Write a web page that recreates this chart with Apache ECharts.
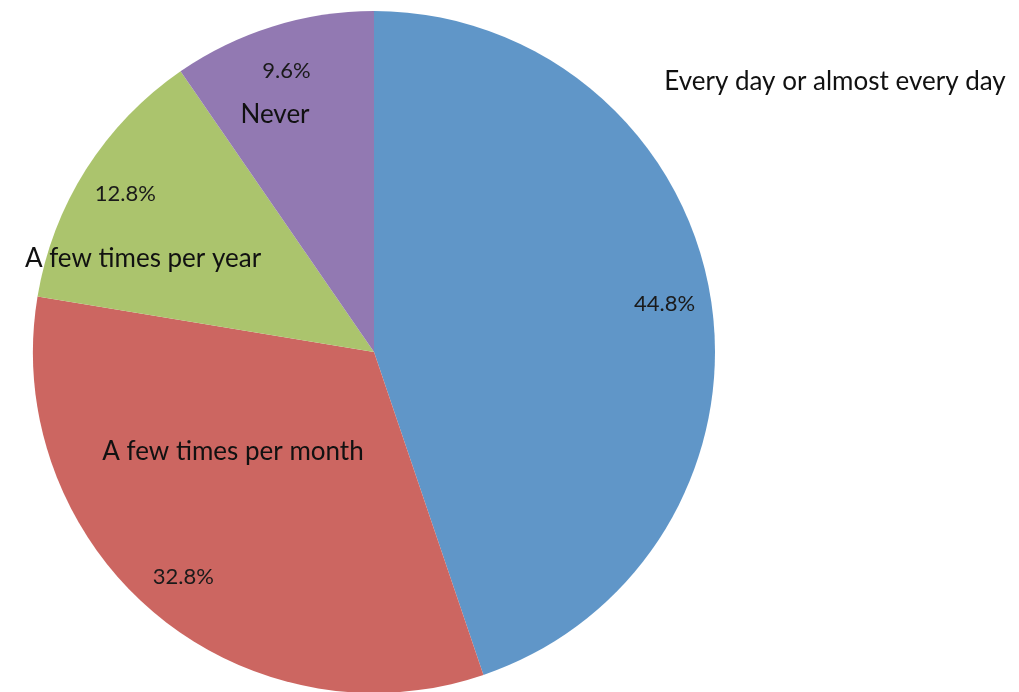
<!DOCTYPE html>
<html>
<head>
<meta charset="utf-8">
<script src="https://cdn.jsdelivr.net/npm/echarts@6/dist/echarts.min.js"></script>
<style>
html,body{margin:0;padding:0;background:#fff;}
#chart{width:1019px;height:692px;}
</style>
</head>
<body>
<div id="chart"></div>
<script>
var categories = ['Every day or almost every day', 'A few times per month', 'A few times per year', 'Never'];
var values = [44.8, 32.8, 12.8, 9.6];
var colors = ['#6096C8', '#CC6661', '#ABC46D', '#9279B2'];

var FONT = 'Lato, "Open Sans", sans-serif';
var center = [374, 352];
var R = 341;

// name label anchor points (label placement only)
var namePos = [[835, 82], [233, 452], [143, 259], [275, 115]];

var chart = echarts.init(document.getElementById('chart'), null, {renderer: 'canvas'});

var data = categories.map(function (c, i) {
  return {name: c, value: values[i], itemStyle: {color: colors[i]}};
});

chart.setOption({
  backgroundColor: '#ffffff',
  animation: false,
  series: [
    {
      type: 'pie',
      center: center,
      radius: [0, R],
      startAngle: 90,
      clockwise: true,
      silent: true,
      label: {show: false},
      labelLine: {show: false},
      itemStyle: {borderWidth: 0},
      data: data
    },
    {
      type: 'pie',
      center: center,
      radius: [R * 0.79, R * 0.92],
      startAngle: 90,
      clockwise: true,
      silent: true,
      itemStyle: {color: 'rgba(0,0,0,0)', borderWidth: 0},
      label: {
        show: true,
        position: 'inside',
        formatter: function (p) { return p.value.toFixed(1) + '%'; },
        color: '#1a1a1a',
        fontFamily: FONT,
        fontSize: 22
      },
      labelLine: {show: false},
      data: categories.map(function (c, i) { return {name: c, value: values[i]}; })
    },
    {
      type: 'pie',
      center: center,
      radius: [0, R],
      startAngle: 90,
      clockwise: true,
      silent: true,
      itemStyle: {color: 'rgba(0,0,0,0)', borderWidth: 0},
      label: {
        show: true,
        position: 'inside',
        formatter: '{b}',
        color: '#111',
        fontFamily: FONT,
        fontSize: 26
      },
      labelLine: {show: false},
      labelLayout: function (p) {
        var pos = namePos[p.dataIndex];
        return {x: pos[0], y: pos[1], align: 'center', verticalAlign: 'middle'};
      },
      data: categories.map(function (c, i) { return {name: c, value: values[i]}; })
    }
  ]
});
</script>
</body>
</html>
